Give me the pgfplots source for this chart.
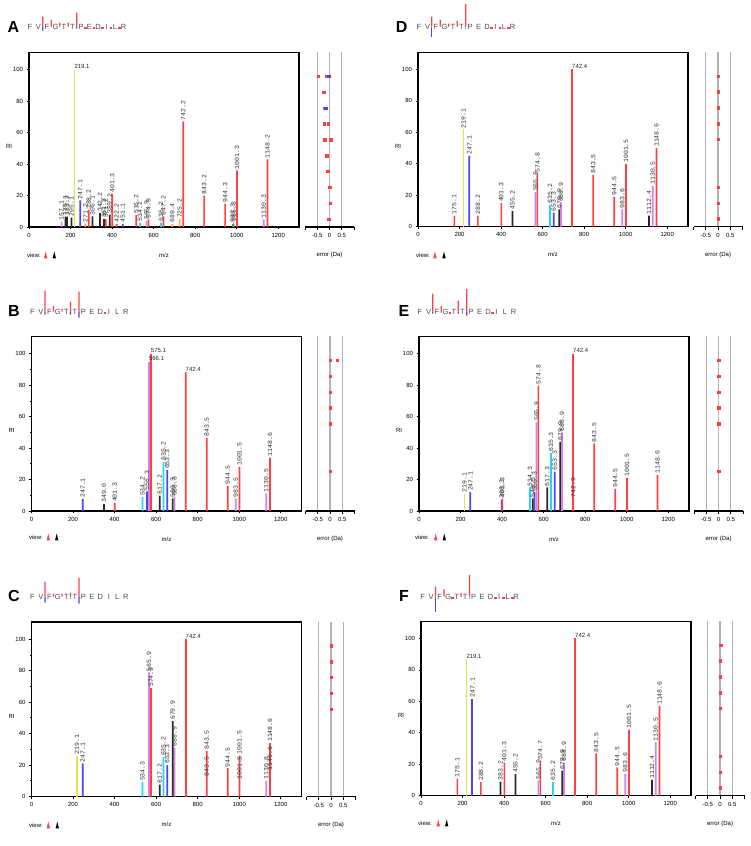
\documentclass[border=0pt]{standalone}
\usepackage{fontspec}
\setmainfont{Liberation Sans}
\newfontfamily\monof{Liberation Mono}
\usepackage{pgfplots}
\pgfplotsset{compat=1.18}

\definecolor{sred}{RGB}{255,64,64}
\definecolor{syel}{RGB}{228,228,70}
\definecolor{sblu}{RGB}{70,70,255}
\definecolor{scyn}{RGB}{40,210,255}
\definecolor{spur}{RGB}{212,130,232}
\definecolor{sorg}{RGB}{255,170,30}
\definecolor{sgrn}{RGB}{40,170,40}
\definecolor{sblk}{RGB}{40,40,40}

\newcommand\tickfont{\fontsize{6}{7}\selectfont}
\newcommand\lblfont{\monof\fontsize{6.5}{6.5}\selectfont}
\newcommand\hlblfont{\fontsize{6}{6}\selectfont}
\newcommand\panelfont{\bfseries\fontsize{16}{16}\selectfont}
\newcommand\seqfont{\fontsize{7.5}{8}\selectfont}

\pgfplotsset{
  spec/.style={
    scale only axis, width=270pt, height=174.5pt, anchor=south west,
    xmin=0, xmax=1300, ymin=0, ymax=111,
    xtick={0,200,...,1200}, ytick={0,20,...,100}, minor ytick={10,30,...,90},
    tick pos=left, tick align=outside, major tick length=2.5pt, minor tick length=1.2pt,
    tick style={black, line width=0.8pt},
    axis line style={black, line width=1.2pt},
    ticklabel style={font=\tickfont},
    /pgf/number format/assume math mode=true,
    /pgf/number format/1000 sep={},
    xlabel={m/z}, ylabel={RI},
    every axis x label/.style={at={(axis description cs:0.5,0)}, anchor=center, yshift=-28pt, font=\tickfont},
    every axis y label/.style={at={(axis description cs:0,0.46)}, anchor=center, xshift=-20pt, font=\tickfont},
    clip=false,
  },
  err/.style={
    scale only axis, width=49pt, height=174.5pt, anchor=south west,
    xmin=-1, xmax=1, ymin=0, ymax=111,
    axis y line=none, axis x line*=bottom,
    xtick={-0.5,0,0.5}, xticklabels={-0.5,0,0.5},
    extra x ticks={-1,1}, extra x tick labels={}, extra tick style={grid=none},
    xmajorgrids, grid style={black!30, line width=1.1pt},
    tick align=outside, major tick length=3pt, tick style={black, line width=0.8pt},
    axis line style={black, line width=1.2pt, -},
    ticklabel style={font=\tickfont},
    /pgf/number format/assume math mode=true,
    xlabel={error (Da)},
    every axis x label/.style={at={(axis description cs:0.5,0)}, anchor=center, yshift=-28pt, font=\tickfont},
    clip=false,
  },
  seq/.style={
    scale only axis, hide axis, width=93.5pt, height=45pt, anchor=south west,
    xmin=0, xmax=11, ymin=-20, ymax=25, clip=false,
  },
  bar/.style={
    ybar, bar width=1.7pt, bar shift=0pt, fill=#1, draw=none,
    nodes near coords, point meta=explicit symbolic,
    every node near coord/.style={rotate=90, anchor=west, font=\lblfont, text=black!80, inner sep=1pt},
  },
  hbar/.style={
    bar=#1, every node near coord/.style={anchor=south west, font=\hlblfont, text=black!85, inner sep=0.6pt, xshift=-0.8pt},
  },
  epts/.style={only marks, mark=square*, mark size=1.2pt, color=#1},
  letters/.style={draw=none, no marks, nodes near coords, point meta=explicit symbolic,
    every node near coord/.style={anchor=center, font=\seqfont, text=black!70, inner sep=0pt}},
  sbar/.style={ybar, bar width=1.3pt, bar shift=0pt, fill=#1, draw=none},
}

\newcommand\seqletters{\addplot[letters] coordinates {(0,0)[F] (1,0)[V] (2,0)[F] (3,0)[G] (4,0)[T] (5,0)[T] (6,0)[P] (7,0)[E] (8,0)[D] (9,0)[I] (10,0)[L] (11,0)[R]};}

\begin{document}
\begin{tikzpicture}[x=1pt,y=1pt]
\useasboundingbox (0,0) rectangle (750,846);

% ---------------- A ----------------
\node[font=\panelfont] at (13.5,819) {A};
\begin{axis}[seq, at={(30pt,799.3pt)}]
\seqletters
\addplot[sbar=sred] coordinates {(1.5,10) (2.5,6.5) (3.5,4) (4.5,4) (5.5,14)};
\addplot[sbar=sblu] coordinates {(1.5,-4) (5.5,-2)};
\addplot[epts=sred, mark size=0.8pt] coordinates {(6.5,-1) (7.5,-1) (8.5,-1) (9.5,-1) (10.5,-1)};
\end{axis}
\begin{axis}[spec, at={(29pt,619pt)}]
\addplot[bar=sred] coordinates {(288.2,10.8)[288.2] (369.2,5)[371.2] (401.3,21)[401.3] (422.2,2)[422.2] (516.2,7.6)[516.2] (574.9,4.9)[574.9] (647.2,6.8)[647.2] (742.2,67)[742.2] (843.2,20)[843.2] (944.3,14.8)[944.3] (1001.3,36)[1001.3] (1148.2,43)[1148.2]};
\addplot[hbar=syel] coordinates {(219.1,100)[219.1]};
\addplot[bar=sblu] coordinates {(247.1,17)[247.1] (451.1,2)[451.1]};
\addplot[bar=sorg] coordinates {(271.2,2)[271.2] (689.4,2)[689.4] (725.2,5)[725.2]};
\addplot[bar=sblk] coordinates {(175.1,6.6)[175.1] (183.1,6.6)[183.2] (205.1,5.9)[205.1] (306.1,6.8)[306.1] (342.2,8.9)[342.2] (361.2,5)[361.2] (389.2,7.8)[389.2]};
\addplot[bar=scyn] coordinates {(534.2,2.8)[534.2] (635.2,2.8)[635.2]};
\addplot[bar=spur] coordinates {(157.1,3.4)[157.1] (565.9,3.8)[565.9] (985.3,3)[985.3] (1130.3,4.9)[1130.3]};
\addplot[bar=sgrn] coordinates {(981.3,2)[983.3]};
\end{axis}
\begin{axis}[err, at={(305pt,619pt)}]
\addplot[epts=sred] coordinates {(-0.45,95.9) (-0.11,95.9) (-0.24,85.8) (-0.22,75.7) (-0.22,65.6) (-0.05,65.6) (-0.19,55.5) (0.05,55.5) (-0.12,45.4) (-0.07,35.3) (0,25.2) (0.04,15.1) (-0.03,5)};
\addplot[epts=sblu] coordinates {(-0.04,95.9) (-0.16,75.7)};
\end{axis}
\node[font=\tickfont] at (34,591) {view:};
\fill[sred] (44,587.5) -- (47.4,587.5) -- (45.7,594.5) -- cycle;
\fill[black] (52.6,587.5) -- (56,587.5) -- (54.3,594.5) -- cycle;

% ---------------- B ----------------
\node[font=\panelfont] at (14,535) {B};
\begin{axis}[seq, at={(32.3pt,514.3pt)}]
\seqletters
\addplot[sbar=sred] coordinates {(1.5,21) (2.5,6) (3.5,3) (4.5,10) (5.5,20)};
\addplot[sbar=sblu] coordinates {(1.5,-3) (4.5,-3) (5.5,-6)};
\addplot[epts=sred, mark size=0.8pt] coordinates {(8.5,-1)};
\end{axis}
\begin{axis}[spec, at={(31.5pt,335pt)}]
\addplot[bar=sblu] coordinates {(247.1,7.7)[247.1] (556.3,12.5)[556.3] (653.3,26)[653.3]};
\addplot[bar=sblk] coordinates {(349.0,4.5)[349.0] (617.2,9.7)[617.2] (680.3,8)[680.3]};
\addplot[bar=sred] coordinates {(401.3,5)[401.3] (843.5,46.5)[843.5] (944.5,16)[944.5] (1001.5,28)[1001.5] (1148.6,34)[1148.6]};
\addplot[bar=scyn] coordinates {(534.2,8.8)[534.2] (635.2,31.2)[635.2]};
\addplot[bar=spur] coordinates {(688.3,8.8)[688.3] (983.5,8)[983.5] (1130.5,11.2)[1130.5]};
\addplot[hbar=spur] coordinates {(566.1,95)[566.1]};
\addplot[hbar=sred] coordinates {(575.1,100)[575.1] (742.4,88.4)[742.4]};
\end{axis}
\begin{axis}[err, at={(305.5pt,335pt)}]
\addplot[epts=sred] coordinates {(0,95.9) (0.3,95.9) (0,85.8) (0,75.7) (0,65.6) (0,55.5) (0,25.2)};
\end{axis}
\node[font=\tickfont] at (36,309) {view:};
\fill[sred] (46.6,305.5) -- (50,305.5) -- (48.3,312.5) -- cycle;
\fill[black] (55,305.5) -- (58.4,305.5) -- (56.7,312.5) -- cycle;

% ---------------- C ----------------
\node[font=\panelfont] at (14,250) {C};
\begin{axis}[seq, at={(32.3pt,229.3pt)}]
\seqletters
\addplot[sbar=sred] coordinates {(1.5,15) (2.5,3) (3.5,3) (4.5,4) (5.5,18.7)};
\addplot[sbar=sblu] coordinates {(1.5,-6) (5.5,-7)};
\addplot[sbar=scyn] coordinates {(4.5,-2)};
\end{axis}
\begin{axis}[spec, at={(31.5pt,49.5pt)}]
\addplot[bar=syel] coordinates {(219.1,25.9)[219.1]};
\addplot[bar=sblu] coordinates {(247.1,21)[247.1] (653.3,20)[653.3]};
\addplot[bar=scyn] coordinates {(534.3,9.1)[534.3] (635.2,25)[635.2]};
\addplot[bar=spur] coordinates {(565.9,79)[565.9] (688.9,31)[688.9] (1130.6,10)[1130.6]};
\addplot[bar=sred] coordinates {(574.9,69)[574.9] (843.5,29)[843.5] (843.5,12)[843.5] (944.5,18)[944.5] (1001.5,26)[1001.5] (1001.5,10)[1001.5] (1148.6,34)[1148.6] (1148.6,16)[1140.6]};
\addplot[hbar=sred] coordinates {(742.4,100)[742.4]};
\addplot[bar=sblk] coordinates {(617.2,7.6)[617.2] (679.9,48)[679.9]};
\end{axis}
\begin{axis}[err, at={(306.5pt,49.5pt)}]
\addplot[epts=sred] coordinates {(0,95.9) (0,85.8) (0,75.7) (0,65.6) (0,55.5)};
\end{axis}
\node[font=\tickfont] at (36,21) {view:};
\fill[sred] (46.6,17.5) -- (50,17.5) -- (48.3,24.5) -- cycle;
\fill[black] (55.6,17.5) -- (59,17.5) -- (57.3,24.5) -- cycle;

% ---------------- D ----------------
\node[font=\panelfont] at (401.7,819) {D};
\begin{axis}[seq, at={(419pt,799.3pt)}]
\seqletters
\addplot[sbar=sred] coordinates {(1.5,10) (2.5,6.7) (3.5,3) (4.5,5.7) (5.5,22.7)};
\addplot[sbar=sblu] coordinates {(1.5,-10)};
\addplot[sbar=scyn] coordinates {(5.5,-2)};
\addplot[epts=sred, mark size=0.8pt] coordinates {(8.5,-1) (9.5,-1) (10.5,-1)};
\end{axis}
\begin{axis}[spec, at={(418pt,619.3pt)}]
\addplot[bar=sred] coordinates {(175.1,7)[175.1] (288.2,7)[288.2] (401.3,15)[401.3] (574.8,34)[574.8] (843.5,33)[843.5] (944.5,19)[944.5] (1001.5,40)[1001.5] (1148.6,50)[1148.6]};
\addplot[hbar=sred] coordinates {(742.4,100)[742.4]};
\addplot[bar=syel] coordinates {(219.1,62)[219.1]};
\addplot[bar=sblu] coordinates {(247.1,45)[247.1] (653.3,9)[653.3]};
\addplot[bar=sblk] coordinates {(455.2,10)[455.2] (679.9,11)[679.9] (1112.4,7)[1112.4]};
\addplot[bar=spur] coordinates {(565.9,22)[565.9] (688.9,15)[688.9] (983.6,11)[983.6] (1130.5,26)[1130.5]};
\addplot[bar=scyn] coordinates {(635.2,14)[635.2]};
\end{axis}
\begin{axis}[err, at={(693.5pt,619.3pt)}]
\addplot[epts=sred] coordinates {(0,95.9) (0,85.8) (0,75.7) (0,65.6) (0,55.5) (0,25.2) (0,15.1) (0,5)};
\end{axis}
\node[font=\tickfont] at (423,591) {view:};
\fill[sred] (433.3,587.5) -- (436.7,587.5) -- (435,594.5) -- cycle;
\fill[black] (442.3,587.5) -- (445.7,587.5) -- (444,594.5) -- cycle;

% ---------------- E ----------------
\node[font=\panelfont] at (404,535) {E};
\begin{axis}[seq, at={(420pt,514.3pt)}]
\seqletters
\addplot[sbar=sred] coordinates {(1.5,18) (2.5,5.7) (4.5,11) (5.5,22.7)};
\addplot[sbar=sblu] coordinates {(1.5,-2) (2.5,-1) (4.5,-2) (5.5,-4)};
\addplot[epts=sred, mark size=0.8pt] coordinates {(3.5,-1) (8.5,-1)};
\end{axis}
\begin{axis}[spec, at={(419pt,335pt)}]
\addplot[bar=syel] coordinates {(219.1,11)[219.1]};
\addplot[bar=sblu] coordinates {(247.1,12)[247.1] (398.3,7)[398.3] (556.3,12)[556.3] (653.3,25)[653.3]};
\addplot[bar=scyn] coordinates {(534.3,15)[534.3] (635.3,37)[635.3]};
\addplot[bar=sblk] coordinates {(548.3,8)[548.3] (617.3,15)[617.3] (679.9,44)[679.9]};
\addplot[bar=spur] coordinates {(565.9,56.6)[565.9] (688.9,50)[688.9]};
\addplot[bar=sred] coordinates {(401.3,8)[401.3] (574.8,79.8)[574.8] (742.9,8)[742.9] (843.5,43)[843.5] (944.5,14)[944.5] (1001.5,21)[1001.5] (1148.6,23)[1148.6]};
\addplot[hbar=sred] coordinates {(742.4,100)[742.4]};
\end{axis}
\begin{axis}[err, at={(694pt,335pt)}]
\addplot[epts=sred] coordinates {(0,95.9) (0,85.8) (0,75.7) (0,65.6) (0,55.5) (0,25.2)};
\end{axis}
\node[font=\tickfont] at (422,309) {view:};
\fill[sred] (434,305.5) -- (437.4,305.5) -- (435.7,312.5) -- cycle;
\fill[black] (442.6,305.5) -- (446,305.5) -- (444.3,312.5) -- cycle;

% ---------------- F ----------------
\node[font=\panelfont] at (404,250) {F};
\begin{axis}[seq, at={(422.7pt,229.3pt)}]
\seqletters
\addplot[sbar=sred] coordinates {(1.5,10) (2.5,7.3) (4.5,4) (5.5,21.7)};
\addplot[sbar=sblu] coordinates {(1.5,-15.7)};
\addplot[sbar=scyn] coordinates {(5.5,-2)};
\addplot[epts=sred, mark size=0.8pt] coordinates {(3.5,-1) (8.5,-1) (9.5,-1) (10.5,-1)};
\end{axis}
\begin{axis}[spec, at={(421pt,50.3pt)}]
\addplot[bar=sred] coordinates {(175.1,10.9)[175.1] (288.2,8.7)[288.2] (401.3,21)[401.3] (574.7,22)[574.7] (843.5,27)[843.5] (944.5,18)[944.5] (1001.5,42)[1001.5] (1148.6,57)[1148.6]};
\addplot[hbar=sred] coordinates {(742.4,100)[742.4]};
\addplot[hbar=syel] coordinates {(219.1,87)[219.1]};
\addplot[bar=sblu] coordinates {(247.1,61.7)[247.1]};
\addplot[bar=sblk] coordinates {(383.2,9)[383.2] (455.2,13.8)[455.2] (679.9,16)[679.9] (1112.4,10)[1112.4]};
\addplot[bar=spur] coordinates {(565.9,9.8)[565.9] (688.9,21)[688.9] (983.6,14)[983.6] (1130.5,34)[1130.5]};
\addplot[bar=scyn] coordinates {(635.2,9)[635.2]};
\end{axis}
\begin{axis}[err, at={(695.5pt,50.3pt)}]
\addplot[epts=sred] coordinates {(0,95.9) (0.03,95.9) (0,85.8) (0,75.7) (0,65.6) (0,55.5) (0,25.2) (0,15.1) (0,5)};
\end{axis}
\node[font=\tickfont] at (425,23) {view:};
\fill[sred] (436.6,19.5) -- (440,19.5) -- (438.3,26.5) -- cycle;
\fill[black] (445,19.5) -- (448.4,19.5) -- (446.7,26.5) -- cycle;
\end{tikzpicture}
\end{document}
